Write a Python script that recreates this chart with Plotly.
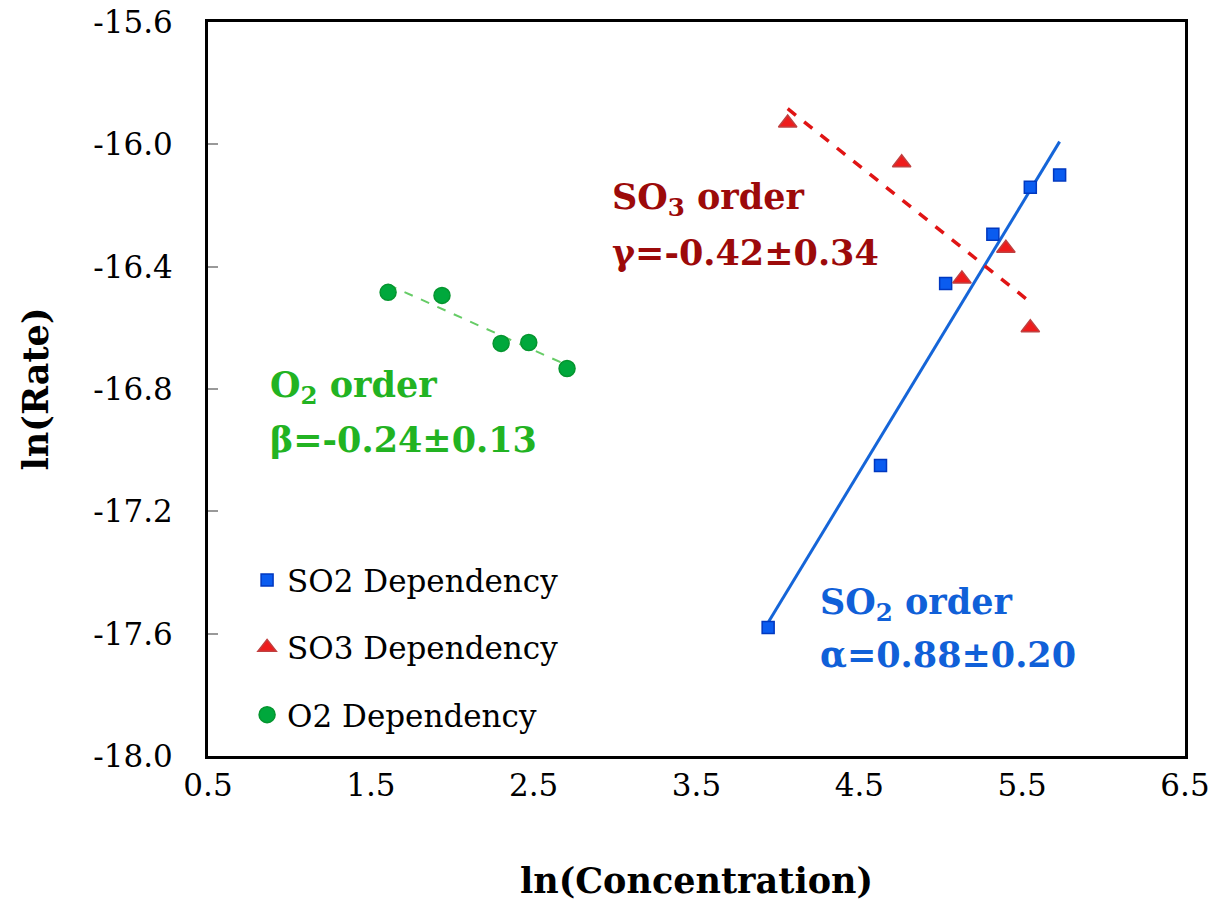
import numpy as np
import plotly.graph_objects as go

# ln(concentration) / ln(rate) pairs for each reactant dependency
so2_x = [3.94, 4.63, 5.03, 5.32, 5.55, 5.73]
so2_y = [-17.58, -17.05, -16.455, -16.294, -16.14, -16.10]

so3_x = [4.06, 4.76, 5.13, 5.40, 5.55]
so3_y = [-15.93, -16.06, -16.44, -16.34, -16.60]

o2_x = [1.606, 1.937, 2.30, 2.47, 2.705]
o2_y = [-16.484, -16.494, -16.651, -16.648, -16.733]

x_ticks = [0.5, 1.5, 2.5, 3.5, 4.5, 5.5, 6.5]
y_ticks = [-18.0, -17.6, -17.2, -16.8, -16.4, -16.0, -15.6]

FONT = "DejaVu Serif"


def fit_line(xs, ys):
    slope, intercept = np.polyfit(xs, ys, 1)
    xx = np.array([min(xs), max(xs)])
    return xx, slope * xx + intercept


fig = go.Figure()

# regression lines
lx, ly = fit_line(so2_x, so2_y)
fig.add_trace(go.Scatter(x=lx, y=ly, mode="lines", showlegend=False,
                         line=dict(color="#1565d8", width=3), hoverinfo="skip"))
lx, ly = fit_line(so3_x, so3_y)
fig.add_trace(go.Scatter(x=lx, y=ly, mode="lines", showlegend=False,
                         line=dict(color="#e01414", width=3.5, dash="dash"), hoverinfo="skip"))
lx, ly = fit_line(o2_x, o2_y)
fig.add_trace(go.Scatter(x=lx, y=ly, mode="lines", showlegend=False,
                         line=dict(color="#66cc66", width=2, dash="dash"), hoverinfo="skip"))

# measured points
fig.add_trace(go.Scatter(x=so2_x, y=so2_y, mode="markers", name="SO2 Dependency",
                         legendgroup="a",
                         marker=dict(symbol="square", size=12, color="#0a5cf0",
                                     line=dict(color="#0038c0", width=1.5))))
fig.add_trace(go.Scatter(x=so3_x, y=so3_y, mode="markers", name="SO3 Dependency",
                         legendgroup="b",
                         marker=dict(symbol="triangle-up", size=16, color="#ee1c1c",
                                     line=dict(color="#c04040", width=1.5))))
fig.add_trace(go.Scatter(x=o2_x, y=o2_y, mode="markers", name="O2 Dependency",
                         legendgroup="c",
                         marker=dict(symbol="circle", size=16, color="#00a83c",
                                     line=dict(color="#05952f", width=1.5))))

# reaction order labels
labels = [
    (2.97, -16.18, "SO<sub>3</sub> order", "#9c0a0a"),
    (2.97, -16.353, "γ=-0.42±0.34", "#9c0a0a"),
    (0.869, -16.795, "O<sub>2</sub> order", "#22b322"),
    (0.869, -16.965, "β=-0.24±0.13", "#22b322"),
    (4.247, -17.502, "SO<sub>2</sub> order", "#1060d8"),
    (4.247, -17.669, "α=0.88±0.20", "#1060d8"),
]
for x, y, txt, col in labels:
    fig.add_annotation(x=x, y=y, text=txt, showarrow=False,
                       xanchor="left", yanchor="middle",
                       font=dict(family=FONT, size=35, color=col, weight="bold"))

fig.update_layout(
    width=1209, height=904,
    margin=dict(l=208, r=24, t=22, b=148),
    paper_bgcolor="white", plot_bgcolor="white",
    font=dict(family=FONT, size=31, color="black"),
    legend=dict(x=0.04, y=0.276, xanchor="left", yanchor="top",
                bgcolor="rgba(0,0,0,0)", tracegroupgap=24, itemwidth=30,
                font=dict(family=FONT, size=31, color="black")),
)
fig.update_xaxes(range=[0.5, 6.5], tickvals=x_ticks, ticktext=[f"{v:.1f}" for v in x_ticks],
                 showgrid=False, zeroline=False, showline=True, mirror=True,
                 linecolor="black", linewidth=3, ticks="", ticklen=0,
                 tickfont=dict(size=31), automargin=False, ticklabeloverflow="allow",
                 title=dict(text="ln(Concentration)", font=dict(size=35, weight="bold"),
                            standoff=67))
fig.update_yaxes(range=[-18.0, -15.6], tickvals=y_ticks, ticktext=[f"{v:.1f}" for v in y_ticks],
                 showgrid=False, zeroline=False, showline=True, mirror=True,
                 linecolor="black", linewidth=3, ticks="inside", ticklen=10,
                 tickcolor="#999999", tickwidth=1.5, ticklabelstandoff=26,
                 tickfont=dict(size=31), automargin=False, ticklabeloverflow="allow",
                 title=dict(text="ln(Rate)", font=dict(size=35, weight="bold"), standoff=35))

fig.write_html("out.html")
